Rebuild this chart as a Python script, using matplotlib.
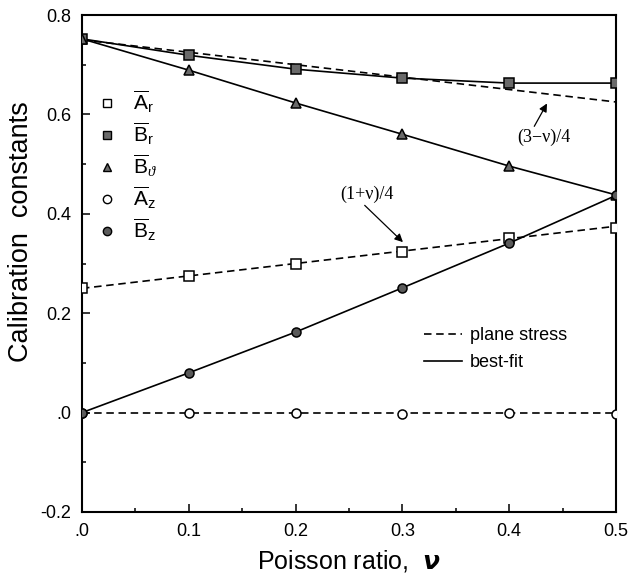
import matplotlib
matplotlib.use("Agg")
import matplotlib.pyplot as plt
from matplotlib.lines import Line2D
from matplotlib.ticker import MultipleLocator, FixedLocator

plt.rcParams['font.family'] = ['Liberation Sans', 'DejaVu Sans']
plt.rcParams['mathtext.fontset'] = 'custom'
plt.rcParams['mathtext.rm'] = 'Liberation Sans'
plt.rcParams['mathtext.it'] = 'Liberation Serif:italic'
plt.rcParams['mathtext.bf'] = 'Liberation Serif:bold:italic'

# ---- data ----
nu = [0.0, 0.1, 0.2, 0.3, 0.4, 0.5]
A_r = [0.250, 0.275, 0.299, 0.323, 0.351, 0.372]
B_r = [0.752, 0.719, 0.691, 0.673, 0.663, 0.663]
B_theta = [0.752, 0.689, 0.623, 0.560, 0.496, 0.438]
A_z = [0.0, 0.0, 0.0, -0.003, 0.0, -0.003]
B_z = [0.0, 0.080, 0.162, 0.251, 0.341, 0.437]
plane_upper = [0.750, 0.725, 0.700, 0.675, 0.650, 0.625]   # (3-nu)/4
plane_lower = [0.250, 0.275, 0.300, 0.325, 0.350, 0.375]   # (1+nu)/4
plane_zero = [0.0, 0.0, 0.0, 0.0, 0.0, 0.0]

xticks = [0.0, 0.1, 0.2, 0.3, 0.4, 0.5]
xticklabels = ['.0', '0.1', '0.2', '0.3', '0.4', '0.5']
yticks = [-0.2, 0.0, 0.2, 0.4, 0.6, 0.8]
yticklabels = ['-0.2', '.0', '0.2', '0.4', '0.6', '0.8']

fig = plt.figure(figsize=(6.38, 5.76), dpi=100)
ax = fig.add_axes([82/638, 64/576, 534/638, 497/576])

lw = 1.2
dash = (4.5, 2.8)
ms = 6.5

# plane stress dashed lines
ax.plot(nu, plane_upper, color='black', lw=lw, ls=(0, dash), zorder=2)
ax.plot(nu, plane_lower, color='black', lw=lw, ls=(0, dash), zorder=2)
ax.plot(nu, plane_zero, color='black', lw=lw, ls=(0, dash), zorder=2)

# best-fit solid lines
ax.plot(nu, B_r, color='black', lw=lw, zorder=2)
ax.plot(nu, B_theta, color='black', lw=lw, zorder=2)
ax.plot(nu, B_z, color='black', lw=lw, zorder=2)

# markers
kw = dict(ls='none', markeredgecolor='black', markeredgewidth=1.1, markersize=ms, zorder=3)
ax.plot(nu, A_r, marker='s', markerfacecolor='white', **kw)
ax.plot(nu, B_r, marker='s', markerfacecolor='#6a6a6a', **kw)
ax.plot(nu, B_theta, marker='^', markerfacecolor='#6a6a6a', **kw)
ax.plot(nu, A_z, marker='o', markerfacecolor='white', **kw)
ax.plot(nu, B_z, marker='o', markerfacecolor='#5a5a5a', **kw)

ax.set_xlim(0, 0.5)
ax.set_ylim(-0.2, 0.8)
ax.xaxis.set_major_locator(FixedLocator(xticks))
ax.set_xticklabels(xticklabels)
ax.yaxis.set_major_locator(FixedLocator(yticks))
ax.set_yticklabels(yticklabels)
ax.xaxis.set_minor_locator(MultipleLocator(0.05))
ax.yaxis.set_minor_locator(MultipleLocator(0.1))
ax.tick_params(which='both', direction='in', top=False, right=False, labelsize=13, width=1.1)
ax.tick_params(which='major', length=6, pad=8)
ax.tick_params(which='minor', length=3)
for s in ax.spines.values():
    s.set_linewidth(1.5)

ax.set_xlabel(r'Poisson ratio,  $\boldsymbol{\nu}$', fontsize=18, labelpad=6)
ax.set_ylabel('Calibration  constants', fontsize=19.5, va='center')
ax.yaxis.set_label_coords(-0.115, 0.565)

# annotations
akw = dict(arrowstyle='-|>', color='black', lw=0.9, shrinkA=0, shrinkB=0,
           mutation_scale=12)
ax.annotate('(3\u2212\u03bd)/4', xy=(0.4354, 0.622), xytext=(0.432, 0.553),
            ha='center', va='center', fontsize=13, family='Liberation Serif',
            arrowprops=dict(**akw, relpos=(0.3, 1.0)))
ax.annotate('(1+\u03bd)/4', xy=(0.3005, 0.343), xytext=(0.267, 0.44),
            ha='center', va='center', fontsize=13, family='Liberation Serif',
            arrowprops=dict(**akw, relpos=(0.4, 0.0)))

# marker legend
mk = dict(ls='none', markeredgecolor='black', markeredgewidth=1.0, markersize=6)
handles1 = [
    Line2D([], [], marker='s', markerfacecolor='white', **mk),
    Line2D([], [], marker='s', markerfacecolor='#6a6a6a', **mk),
    Line2D([], [], marker='^', markerfacecolor='#6a6a6a', **mk),
    Line2D([], [], marker='o', markerfacecolor='white', **mk),
    Line2D([], [], marker='o', markerfacecolor='#5a5a5a', **mk),
]
labels1 = [r'$\overline{\mathrm{A}}_\mathrm{r}$', r'$\overline{\mathrm{B}}_\mathrm{r}$',
           r'$\overline{\mathrm{B}}_\vartheta$', r'$\overline{\mathrm{A}}_\mathrm{z}$',
           r'$\overline{\mathrm{B}}_\mathrm{z}$']
leg1 = ax.legend(handles1, labels1, loc='upper left', bbox_to_anchor=(0.0, 0.88),
                 frameon=False, fontsize=15, handlelength=1.0, handletextpad=0.75,
                 labelspacing=0.28, borderaxespad=0.3)
ax.add_artist(leg1)

handles2 = [Line2D([], [], color='black', lw=lw, ls=(0, dash)),
            Line2D([], [], color='black', lw=lw)]
labels2 = ['plane stress', 'best-fit']
ax.legend(handles2, labels2, loc='upper left', bbox_to_anchor=(0.61, 0.405),
          frameon=False, fontsize=13, handlelength=2.1, handletextpad=0.45,
          labelspacing=0.55)

fig.savefig('out.png', dpi=100)
